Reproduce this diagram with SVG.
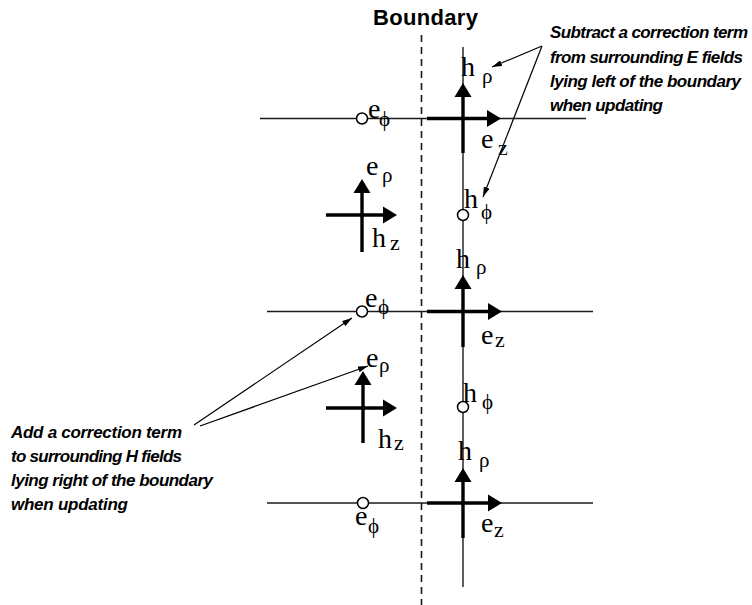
<svg xmlns="http://www.w3.org/2000/svg" xmlns:xlink="http://www.w3.org/1999/xlink" width="752" height="605" viewBox="0 0 752 605">
<style>
.thin{stroke:#1a1a1a;stroke-width:1.4;fill:none}
.thick{stroke:#000;stroke-width:3.4;fill:none}
.dash{stroke:#1a1a1a;stroke-width:1.6;stroke-dasharray:7 5;fill:none}
.circ{stroke:#000;stroke-width:1.5;fill:#fff}
.ann{stroke:#000;stroke-width:1.2;fill:none;marker-end:url(#sm)}
.m{font-family:"Liberation Serif","Times New Roman",serif;font-size:28px;fill:#000}
.s{font-family:"Liberation Serif","Times New Roman",serif;font-size:21px;fill:#000}
.z{font-family:"Liberation Serif","Times New Roman",serif;font-size:22px;fill:#000}
.note{font-family:"Liberation Sans",Arial,sans-serif;font-style:italic;font-weight:bold;font-size:17px;fill:#000}
.title{font-family:"Liberation Sans",Arial,sans-serif;font-weight:bold;font-size:22px;fill:#000}
</style>
<defs>
<path id="ah" d="M0,0 L-14,-8.5 L-14,8.5 Z" fill="#000"/>
<marker id="sm" viewBox="0 0 10 6" refX="10" refY="3" markerWidth="10" markerHeight="6" markerUnits="userSpaceOnUse" orient="auto">
<path d="M0,0 L10,3 L0,6 Z" fill="#000"/>
</marker>
</defs>
<rect width="752" height="605" fill="#fff"/>

<g id="boundary">
<text class="title" x="373" y="25" textLength="105">Boundary</text>
<line class="dash" x1="421.5" y1="35" x2="421.5" y2="605"/>
</g>

<g id="grid-lines">
<line class="thin" x1="463" y1="47" x2="463" y2="587"/>
<line class="thin" x1="260" y1="118.5" x2="586" y2="118.5"/>
<line class="thin" x1="267" y1="311.5" x2="593" y2="311.5"/>
<line class="thin" x1="267" y1="503" x2="593" y2="503"/>
</g>

<g id="row1-right">
<line class="thick" x1="427" y1="118.5" x2="488" y2="118.5"/>
<use xlink:href="#ah" transform="translate(501,118.5)"/>
<line class="thick" x1="463" y1="153" x2="463" y2="96"/>
<use xlink:href="#ah" transform="translate(463,83) rotate(-90)"/>
<text class="m" x="461" y="76">h</text><text class="s" x="482" y="83">ρ</text>
<text class="m" x="481" y="148">e</text><text class="z" x="498" y="155">z</text>
</g>

<g id="row1-ephi">
<circle class="circ" cx="362" cy="118.5" r="5.5"/>
<text class="m" x="368" y="118">e</text><text class="s" x="379" y="126">ϕ</text>
</g>

<g id="hphi-1">
<circle class="circ" cx="463" cy="215" r="5.5"/>
<text class="m" x="464" y="208">h</text><text class="s" x="481" y="219">ϕ</text>
</g>

<g id="cross-1">
<line class="thick" x1="362" y1="252" x2="362" y2="192"/>
<use xlink:href="#ah" transform="translate(362,179) rotate(-90)"/>
<line class="thick" x1="326" y1="215" x2="384" y2="215"/>
<use xlink:href="#ah" transform="translate(397,215)"/>
<text class="m" x="366" y="175">e</text><text class="s" x="382" y="182">ρ</text>
<text class="m" x="372" y="247">h</text><text class="z" x="390" y="250">z</text>
</g>

<g id="row2-right">
<line class="thick" x1="427" y1="311.5" x2="489" y2="311.5"/>
<use xlink:href="#ah" transform="translate(502,311.5)"/>
<line class="thick" x1="463" y1="347" x2="463" y2="288"/>
<use xlink:href="#ah" transform="translate(463,275) rotate(-90)"/>
<text class="m" x="456" y="268">h</text><text class="s" x="476" y="274">ρ</text>
<text class="m" x="481" y="344">e</text><text class="z" x="495" y="347">z</text>
</g>

<g id="row2-ephi">
<circle class="circ" cx="362" cy="311.5" r="5.5"/>
<text class="m" x="365" y="307">e</text><text class="s" x="378" y="314">ϕ</text>
</g>

<g id="hphi-2">
<circle class="circ" cx="463" cy="407" r="5.5"/>
<text class="m" x="463" y="402">h</text><text class="s" x="482" y="409">ϕ</text>
</g>

<g id="cross-2">
<line class="thick" x1="363" y1="443" x2="363" y2="384"/>
<use xlink:href="#ah" transform="translate(363,371) rotate(-90)"/>
<line class="thick" x1="326" y1="408" x2="384" y2="408"/>
<use xlink:href="#ah" transform="translate(397,408)"/>
<text class="m" x="366" y="367">e</text><text class="s" x="379" y="372">ρ</text>
<text class="m" x="378" y="448">h</text><text class="z" x="394" y="450">z</text>
</g>

<g id="row3-right">
<line class="thick" x1="427" y1="503" x2="489" y2="503"/>
<use xlink:href="#ah" transform="translate(502,503)"/>
<line class="thick" x1="463" y1="538" x2="463" y2="481"/>
<use xlink:href="#ah" transform="translate(463,468) rotate(-90)"/>
<text class="m" x="458" y="460">h</text><text class="s" x="479" y="467">ρ</text>
<text class="m" x="481" y="532">e</text><text class="z" x="494" y="537">z</text>
</g>

<g id="row3-ephi">
<circle class="circ" cx="363" cy="503" r="5.5"/>
<text class="m" x="355" y="525">e</text><text class="s" x="368" y="533">ϕ</text>
</g>

<g id="note-right">
<text class="note" x="550" y="38" textLength="198">Subtract a correction term</text>
<text class="note" x="550" y="63" textLength="193">from surrounding E fields</text>
<text class="note" x="550" y="87" textLength="191">lying left of the boundary</text>
<text class="note" x="550" y="111" textLength="113">when updating</text>
</g>

<g id="note-left">
<text class="note" x="11" y="438" textLength="171">Add a correction term</text>
<text class="note" x="11" y="462" textLength="171">to surrounding H fields</text>
<text class="note" x="11" y="486" textLength="202">lying right of the boundary</text>
<text class="note" x="11" y="510" textLength="117">when updating</text>
</g>

<g id="connectors">
<line class="ann" x1="542" y1="46" x2="492" y2="67"/>
<line class="ann" x1="542" y1="46" x2="483" y2="197"/>
<line class="ann" x1="194" y1="425" x2="352" y2="318"/>
<line class="ann" x1="200" y1="426" x2="368" y2="366"/>
</g>
</svg>
